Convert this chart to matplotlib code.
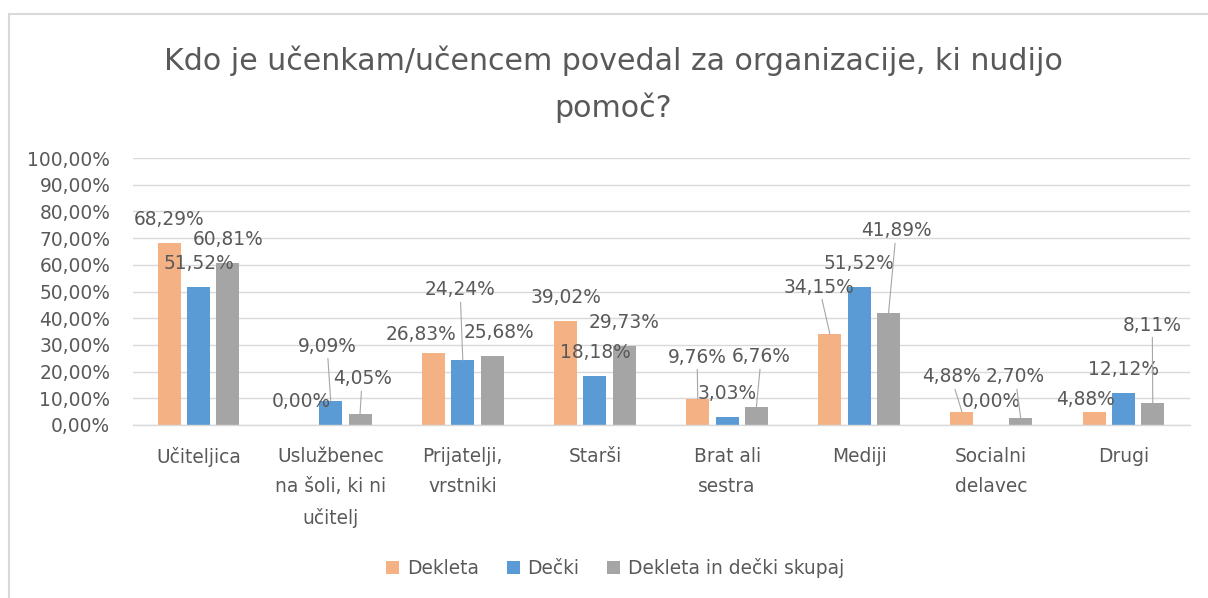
import matplotlib
matplotlib.use("Agg")
import matplotlib.pyplot as plt
from matplotlib.lines import Line2D
import numpy as np

categories = ["Učiteljica", "Uslužbenec\nna šoli, ki ni\nučitelj", "Prijatelji,\nvrstniki",
              "Starši", "Brat ali\nsestra", "Mediji", "Socialni\ndelavec", "Drugi"]
dekleta = [68.29, 0.00, 26.83, 39.02, 9.76, 34.15, 4.88, 4.88]
decki = [51.52, 9.09, 24.24, 18.18, 3.03, 51.52, 0.00, 12.12]
skupaj = [60.81, 4.05, 25.68, 29.73, 6.76, 41.89, 2.70, 8.11]
series_names = ["Dekleta", "Dečki", "Dekleta in dečki skupaj"]
y_ticks = [0, 10, 20, 30, 40, 50, 60, 70, 80, 90, 100]
y_tick_labels = ["0,00%", "10,00%", "20,00%", "30,00%", "40,00%", "50,00%",
                 "60,00%", "70,00%", "80,00%", "90,00%", "100,00%"]
title_lines = ["Kdo je učenkam/učencem povedal za organizacije, ki nudijo", "pomoč?"]

colors = ["#F4B183", "#5B9BD5", "#A5A5A5"]
text_col = "#595959"
grid_col = "#D9D9D9"
fs = 13.4

# label placement in pixels relative to the top of the bar (dx, dy up, leader line)
label_pos = {
    (1, 1): (-3.6, 56.7, True), (2, 1): (2.1, 37.2, True),
    (0, 2): (-12.4, 20.4, False), (1, 2): (-2.7, 72.3, True), (2, 2): (6.5, 26.4, False),
    (0, 4): (-0.6, 43.9, True), (2, 4): (4.8, 52.0, True),
    (0, 5): (-10.7, 48.8, True), (2, 5): (7.7, 84.2, True),
    (0, 6): (-10.8, 37.0, True), (2, 6): (-5.4, 42.8, True),
    (0, 7): (-8.4, 14.0, False), (2, 7): (-0.5, 80.3, True),
}

W, H = 1208, 598
fig = plt.figure(figsize=(W / 100, H / 100), dpi=100)
ax = fig.add_axes([132.5 / W, 1 - 425 / H, 1057 / W, 267 / H])

x = np.arange(len(categories))
step = 0.222
width = 0.174
bars = []
for s, vals in enumerate([dekleta, decki, skupaj]):
    b = ax.bar(x + (s - 1) * step, vals, width, color=colors[s], label=series_names[s], zorder=2)
    bars.append(b)
    for i, v in enumerate(vals):
        dx, dy, leader = label_pos.get((s, i), (0, 25.5, False))
        txt = "{:.2f}%".format(v).replace(".", ",")
        arrow = None
        if leader:
            arrow = dict(arrowstyle="-", color="#A6A6A6", lw=0.8, shrinkA=0, shrinkB=0)
        ax.annotate(txt, xy=(x[i] + (s - 1) * step, v), xytext=(dx, dy),
                    textcoords="offset pixels", ha="center", va="center_baseline",
                    fontsize=fs, color=text_col, arrowprops=arrow, zorder=3)

ax.set_xlim(-0.5, 7.5)
ax.set_ylim(0, 100)
ax.set_yticks(y_ticks)
ax.set_yticklabels(y_tick_labels)
ax.set_xticks(x)
ax.set_xticklabels(categories, linespacing=1.75)
ax.yaxis.grid(True, color=grid_col, lw=1.0, zorder=0)
ax.set_axisbelow(True)
for side in ["top", "right", "left"]:
    ax.spines[side].set_visible(False)
ax.spines["bottom"].set_color(grid_col)
ax.spines["bottom"].set_linewidth(1.0)
ax.tick_params(axis="y", length=0, labelsize=fs, labelcolor=text_col, pad=16)
ax.tick_params(axis="x", length=0, labelsize=fs, labelcolor=text_col, pad=15.5)

# title, two lines
for k, line in enumerate(title_lines):
    fig.text(613.5 / W, 1 - (70 + 47 * k) / H, line, ha="center", va="baseline",
             fontsize=21.6, color=text_col)

fig.legend(handles=bars, labels=series_names, loc="center",
           bbox_to_anchor=(615 / W, 1 - 568 / H), ncol=3, frameon=False,
           fontsize=fs, labelcolor=text_col, handlelength=0.7, handleheight=0.7,
           handletextpad=0.4, columnspacing=1.5)

# chart area border (only top and left visible)
fig.add_artist(Line2D([8.5 / W, 8.5 / W], [0, 1 - 14 / H], color=grid_col, lw=1.5))
fig.add_artist(Line2D([8.5 / W, 1], [1 - 14 / H, 1 - 14 / H], color=grid_col, lw=1.5))

fig.savefig("out.png", dpi=100)
